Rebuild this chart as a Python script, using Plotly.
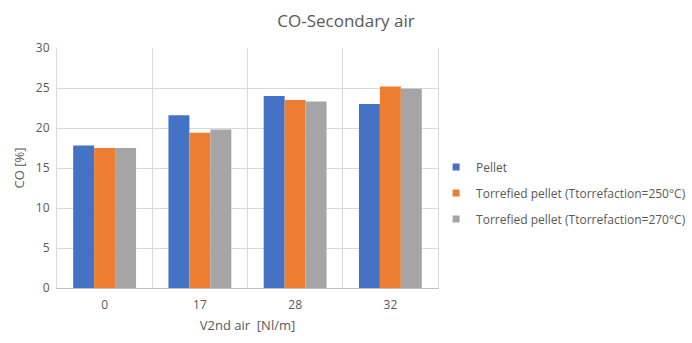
import plotly.graph_objects as go

categories = ["0", "17", "28", "32"]
series_names = ["Pellet",
                "Torrefied pellet (Ttorrefaction=250°C)",
                "Torrefied pellet (Ttorrefaction=270°C)"]
pellet = [17.8, 21.6, 24.0, 23.0]
torr250 = [17.5, 19.4, 23.5, 25.2]
torr270 = [17.5, 19.8, 23.3, 24.9]
colors = ["#4472C4", "#ED7D31", "#A5A5A5"]
y_ticks = [0, 5, 10, 15, 20, 25, 30]

xpos = list(range(len(categories)))
fig = go.Figure()
for i, (name, vals) in enumerate(zip(series_names, [pellet, torr250, torr270])):
    fig.add_trace(go.Bar(x=xpos, y=vals, name=name, marker_color=colors[i],
                         marker_line_width=0, legendgroup=str(i), showlegend=False))
    # legend-only entry with a small square symbol (like the original)
    fig.add_trace(go.Scatter(x=[None], y=[None], mode="markers", name=name,
                             marker=dict(symbol="square", size=7, color=colors[i]),
                             legendgroup=str(i), showlegend=True))

font_family = "Open Sans"
fig.update_layout(
    width=692, height=343,
    margin=dict(l=57, r=254, t=48, b=55, autoexpand=False),
    paper_bgcolor="white", plot_bgcolor="white",
    barmode="group", bargap=0.34, bargroupgap=0,
    font=dict(family=font_family, color="#595959", size=12),
    title=dict(text="CO-Secondary air", x=0.5, xref="container", xanchor="center",
               y=0.94, yanchor="middle",
               font=dict(size=17, color="#595959", family=font_family)),
    legend=dict(x=0.995, xanchor="left", y=0.396, yanchor="middle",
                font=dict(size=12, color="#595959"),
                traceorder="grouped", tracegroupgap=7, itemwidth=30,
                bgcolor="rgba(0,0,0,0)"),
    xaxis=dict(range=[-0.5, len(categories) - 0.5],
               tickmode="array", tickvals=xpos, ticktext=categories,
               showgrid=False, zeroline=False, ticks="",
               showline=True, linecolor="#BFBFBF", linewidth=1,
               ticklabelstandoff=6,
               minor=dict(tickmode="linear", tick0=-0.5, dtick=1,
                          showgrid=True, gridcolor="#D9D9D9", gridwidth=1),
               tickfont=dict(size=12, color="#595959"),
               title=dict(text="V2nd air  [Nl/m]", font=dict(size=13, color="#595959"),
                          standoff=8)),
    yaxis=dict(range=[0, 30], tickmode="array", tickvals=y_ticks,
               showgrid=True, gridcolor="#D9D9D9", gridwidth=1,
               zeroline=False, showline=True, mirror=True, linecolor="#D9D9D9",
               ticks="", ticklabelstandoff=4,
               tickfont=dict(size=12, color="#595959"),
               title=dict(text="CO [%]", font=dict(size=13, color="#595959"),
                          standoff=8)),
)

fig.write_html("out.html")
